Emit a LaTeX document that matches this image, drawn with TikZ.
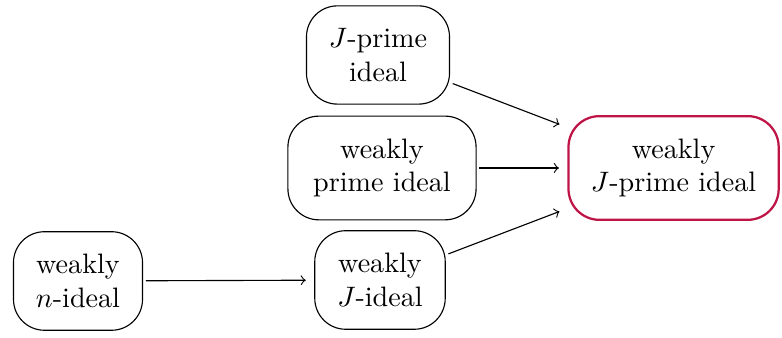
\documentclass[tikz,border=0pt]{standalone}
\usetikzlibrary{positioning,shapes,arrows}
\definecolor{crimson}{RGB}{190,20,70}

\begin{document}
\begin{tikzpicture}[
  mybox/.style={draw,rounded corners=11pt,align=center,inner xsep=8pt,inner ysep=8pt},
  myarrow/.style={->,shorten <=1pt,shorten >=3pt}
  ]
  \useasboundingbox (0,0) rectangle (9.775,4.225);
  \node[mybox,draw=crimson,thick] (wjp) at (8.42,2.125) {weakly\\$J$-prime ideal};
  \node[mybox] (jp) at (4.725,3.5375) {$J$-prime\\ideal};
  \node[mybox,inner xsep=9pt] (wp) at (4.775,2.125) {weakly\\prime ideal};
  \node[mybox] (wj) at (4.75,0.725) {weakly\\$J$-ideal};
  \node[mybox] (wn) at (0.975,0.7125) {weakly\\$n$-ideal};
  
  \path (jp) edge[myarrow] (wjp);
  \path (wp) edge[myarrow] (wjp);
  \path (wj) edge[myarrow] (wjp);
  \path (wn) edge[myarrow] (wj);
\end{tikzpicture}
\end{document}
